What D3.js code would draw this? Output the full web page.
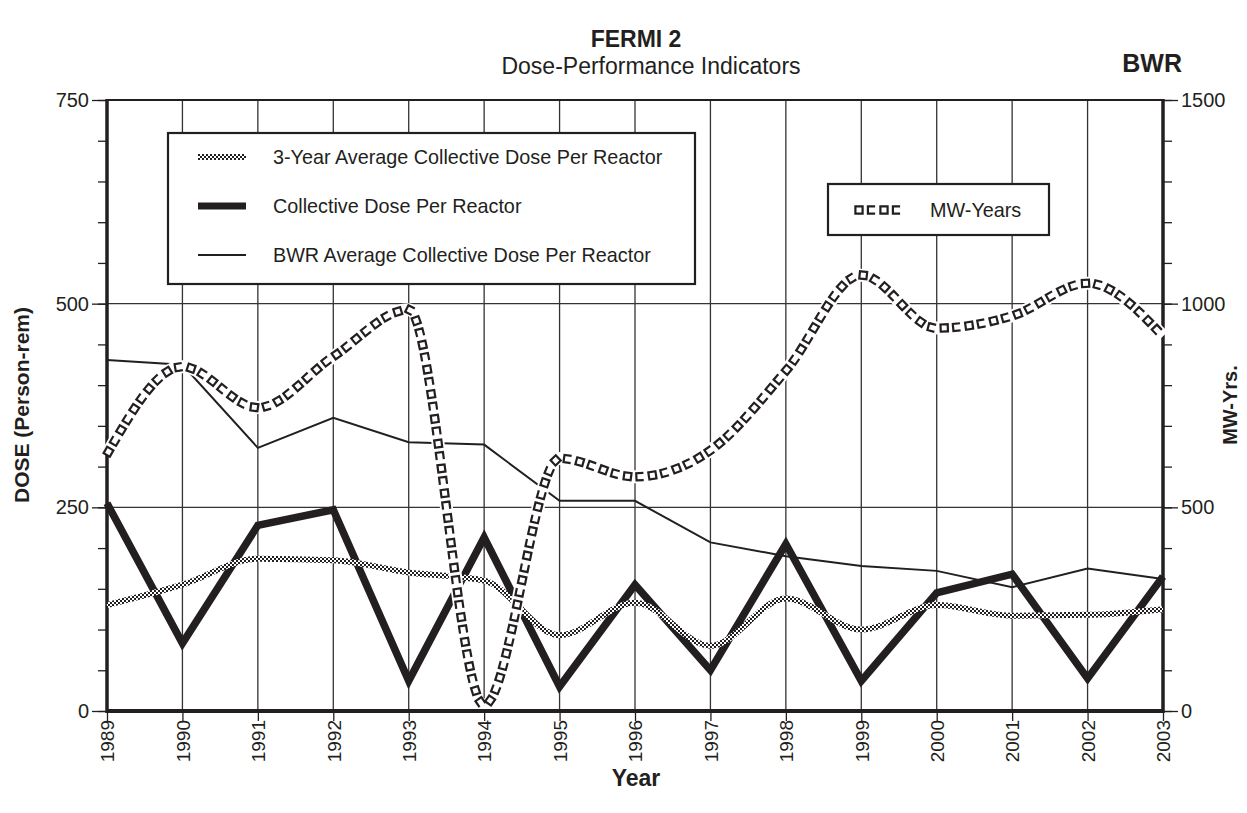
<!DOCTYPE html>
<html><head><meta charset="utf-8">
<script src="https://cdn.jsdelivr.net/npm/d3@7"></script>
<style>
body{margin:0;background:#fff}
svg{display:block}
text{font-family:"Liberation Sans",Arial,Helvetica,sans-serif;fill:#231f20}
</style>
</head><body>
<svg id="c" width="1247" height="813"></svg>
<script>
const years = [1989,1990,1991,1992,1993,1994,1995,1996,1997,1998,1999,2000,2001,2002,2003];
const collectiveDose = [255,83,228,247,37,213,30,155,50,205,37,145,168,40,165];
const bwrAverage = [431,425,323,360,330,327,258,258,207,190,178,172,152,175,162];
const threeYearAvg = [130,155,187,185,170,160,93,133,80,138,100,130,117,118,125];
const mwYears = [630,845,745,870,985,15,620,575,640,835,1070,940,970,1050,920];
const doseTicks = [0,250,500,750];
const mwTicks = [0,500,1000,1500];
const legendLabels = ["3-Year Average Collective Dose Per Reactor","Collective Dose Per Reactor","BWR Average Collective Dose Per Reactor"];
const mwLegendLabel = "MW-Years";

const ink = "#231f20";
const svg = d3.select("#c");
const L = 107, R = 1163, T = 100, B = 711;
const x = d3.scaleLinear().domain([1989,2003]).range([L,R]);
const y = d3.scaleLinear().domain([0,750]).range([B,T]);
const y2 = d3.scaleLinear().domain([0,1500]).range([B,T]);

const defs = svg.append("defs");
const pat = defs.append("pattern").attr("id","checker").attr("patternUnits","userSpaceOnUse")
  .attr("width",4).attr("height",4);
pat.append("rect").attr("width",4).attr("height",4).attr("fill","#fff");
pat.append("rect").attr("x",0).attr("y",0).attr("width",2).attr("height",2).attr("fill",ink);
pat.append("rect").attr("x",2).attr("y",2).attr("width",2).attr("height",2).attr("fill",ink);

// gridlines
const grid = svg.append("g").attr("stroke","#333").attr("stroke-width",1.3);
grid.selectAll("line.v").data(years.slice(1,-1)).join("line")
  .attr("x1",d=>x(d)).attr("x2",d=>x(d)).attr("y1",T).attr("y2",B);
grid.selectAll("line.h").data([250,500]).join("line")
  .attr("x1",L).attr("x2",R).attr("y1",d=>y(d)).attr("y2",d=>y(d));

// axes
function styleAxis(g){ g.select(".domain").remove(); g.selectAll(".tick line").attr("stroke",ink).attr("stroke-width",1.3); }
const fmt = d3.format("d");
svg.append("g").attr("transform",`translate(${L},0)`)
  .call(d3.axisLeft(y).tickValues(d3.range(0,751,50)).tickSize(9).tickFormat(""))
  .call(styleAxis);
svg.append("g").attr("transform",`translate(${L},0)`)
  .call(d3.axisLeft(y).tickValues(doseTicks).tickSize(15).tickPadding(3).tickFormat(fmt))
  .call(styleAxis)
  .call(g=>g.selectAll("text").attr("font-size",20).attr("fill",ink).attr("font-family","Liberation Sans, Arial"));
svg.append("g").attr("transform",`translate(${R},0)`)
  .call(d3.axisRight(y2).tickValues(d3.range(0,1501,100)).tickSize(9).tickFormat(""))
  .call(styleAxis);
svg.append("g").attr("transform",`translate(${R},0)`)
  .call(d3.axisRight(y2).tickValues(mwTicks).tickSize(15).tickPadding(3).tickFormat(fmt))
  .call(styleAxis)
  .call(g=>g.selectAll("text").attr("font-size",20).attr("fill",ink).attr("font-family","Liberation Sans, Arial"));
svg.append("g").attr("transform",`translate(0,${B})`)
  .call(d3.axisBottom(x).tickValues(years).tickSize(10).tickFormat(fmt))
  .call(styleAxis)
  .call(g=>g.selectAll("text").attr("font-size",19).attr("fill",ink)
     .attr("font-family","Liberation Sans, Arial")
     .attr("transform","rotate(-90)").attr("x",-9).attr("y",0).attr("dy","0.36em")
     .style("text-anchor","end"));

// frame
svg.append("line").attr("x1",L).attr("x2",R).attr("y1",T).attr("y2",T).attr("stroke",ink).attr("stroke-width",2.2);
svg.append("line").attr("x1",L).attr("x2",L).attr("y1",T-1).attr("y2",B+2).attr("stroke",ink).attr("stroke-width",3.5);
svg.append("line").attr("x1",R).attr("x2",R).attr("y1",T-1).attr("y2",B+2).attr("stroke",ink).attr("stroke-width",3.5);

// series
const plot = svg.append("g");
plot.append("path").datum(bwrAverage)
  .attr("d",d3.line().x((d,i)=>x(years[i])).y(d=>y(d)))
  .attr("fill","none").attr("stroke",ink).attr("stroke-width",2);
plot.append("path").datum(collectiveDose)
  .attr("d",d3.line().x((d,i)=>x(years[i])).y(d=>y(d)))
  .attr("fill","none").attr("stroke",ink).attr("stroke-width",7.5)
  .attr("stroke-linejoin","miter").attr("stroke-miterlimit",10);
plot.append("path").datum(threeYearAvg)
  .attr("d",d3.line().curve(d3.curveMonotoneX).x((d,i)=>x(years[i])).y(d=>y(d)))
  .attr("fill","none").attr("stroke","url(#checker)").attr("stroke-width",6);

const SQ = "M-3.6,-3.6H3.6V3.6H-3.6Z", BR = "M3.6,-3.6H-3.6V3.6H3.6";
function markerLine(g, dstr, step){
  g.append("path").attr("d",dstr).attr("fill","none").attr("stroke","#fff").attr("stroke-width",13)
    .attr("stroke-linejoin","round");
  const tmp = g.append("path").attr("d",dstr).attr("fill","none").attr("stroke","none");
  const node = tmp.node(), len = node.getTotalLength();
  let i = 0;
  for (let s = 3; s <= len; s += step, i++){
    const p = node.getPointAtLength(s);
    const q = node.getPointAtLength(Math.min(len, s+0.8));
    const p0 = node.getPointAtLength(Math.max(0, s-0.8));
    const ang = Math.atan2(q.y-p0.y, q.x-p0.x)*180/Math.PI;
    g.append("path")
      .attr("d", i%2 ? BR : SQ)
      .attr("transform",`translate(${p.x},${p.y}) rotate(${ang})`)
      .attr("fill", i%2 ? "none" : "#fff").attr("stroke",ink).attr("stroke-width",2.2);
  }
}
const mwPath = d3.line().curve(d3.curveMonotoneX).x((d,i)=>x(years[i])).y(d=>y2(d))(mwYears);
markerLine(plot.append("g"), mwPath, 12.5);

// bottom axis line on top
svg.append("line").attr("x1",L).attr("x2",R).attr("y1",B).attr("y2",B).attr("stroke",ink).attr("stroke-width",4);

// legend 1
const lg = svg.append("g");
lg.append("rect").attr("x",168).attr("y",133).attr("width",527).attr("height",151)
  .attr("fill","#fff").attr("stroke",ink).attr("stroke-width",2.2);
const rows = [157,206,255];
lg.append("line").attr("x1",198).attr("x2",246).attr("y1",rows[0]).attr("y2",rows[0])
  .attr("stroke","url(#checker)").attr("stroke-width",6);
lg.append("line").attr("x1",198).attr("x2",246).attr("y1",rows[1]).attr("y2",rows[1])
  .attr("stroke",ink).attr("stroke-width",7);
lg.append("line").attr("x1",198).attr("x2",246).attr("y1",rows[2]).attr("y2",rows[2])
  .attr("stroke",ink).attr("stroke-width",2);
lg.selectAll("text.l").data(legendLabels).join("text")
  .attr("x",273).attr("y",(d,i)=>rows[i]).attr("dy","0.36em")
  .attr("font-size",19.8).text(d=>d);

// legend 2
const lg2 = svg.append("g");
lg2.append("rect").attr("x",828).attr("y",184).attr("width",221).attr("height",51)
  .attr("fill","#fff").attr("stroke",ink).attr("stroke-width",2.2);
markerLine(lg2.append("g"), d3.line()([[856,210],[904,210]]), 12.5);
lg2.append("text").attr("x",930).attr("y",210).attr("dy","0.36em").attr("font-size",19.8).text(mwLegendLabel);

// titles
svg.append("text").attr("x",636).attr("y",47).attr("text-anchor","middle")
  .attr("font-size",23).attr("font-weight","bold").text("FERMI 2");
svg.append("text").attr("x",651).attr("y",74).attr("text-anchor","middle")
  .attr("font-size",23).text("Dose-Performance Indicators");
svg.append("text").attr("x",1182).attr("y",72).attr("text-anchor","end")
  .attr("font-size",25).attr("font-weight","bold").text("BWR");
svg.append("text").attr("transform","translate(29,405) rotate(-90)").attr("text-anchor","middle")
  .attr("font-size",21).attr("font-weight","bold").text("DOSE (Person-rem)");
svg.append("text").attr("transform","translate(1237,405) rotate(-90)").attr("text-anchor","middle")
  .attr("font-size",20).attr("font-weight","bold").text("MW-Yrs.");
svg.append("text").attr("x",636).attr("y",786).attr("text-anchor","middle")
  .attr("font-size",23).attr("font-weight","bold").text("Year");
</script>
</body></html>
